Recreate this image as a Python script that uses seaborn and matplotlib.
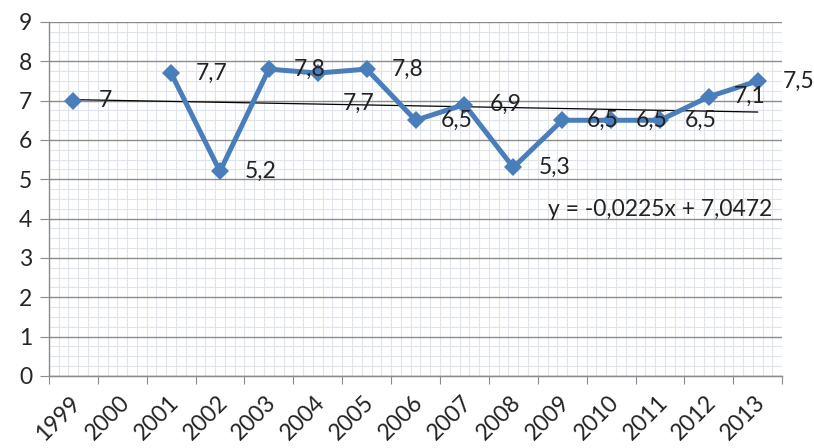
import numpy as np
import pandas as pd
import matplotlib
matplotlib.use("Agg")
import matplotlib.pyplot as plt
import seaborn as sns

# data (2000 has no value)
years = [1999, 2000, 2001, 2002, 2003, 2004, 2005, 2006, 2007, 2008, 2009, 2010, 2011, 2012, 2013]
values = [7.0, np.nan, 7.7, 5.2, 7.8, 7.7, 7.8, 6.5, 6.9, 5.3, 6.5, 6.5, 6.5, 7.1, 7.5]
trend_text = "y = -0,0225x + 7,0472"

blue = "#4a7ebb"
sns.set_style("white")
plt.rcParams["font.family"] = ["Lato", "DejaVu Sans"]
fs = 16.5

df = pd.DataFrame({"x": np.arange(1, len(years) + 1), "year": years, "val": values})
# break the line where a value is missing
df["seg"] = df["val"].isna().cumsum()
pts = df.dropna()

fig, ax = plt.subplots(figsize=(8.14, 4.48), dpi=100)
fig.subplots_adjust(left=0.060, right=0.961, bottom=0.161, top=0.951)

sns.lineplot(data=pts, x="x", y="val", units="seg", estimator=None, color=blue,
             lw=3.6, marker="D", markersize=9.5, markeredgewidth=0, ax=ax, zorder=3)
sns.regplot(data=pts, x="x", y="val", scatter=False, ci=None, truncate=True,
            line_kws={"color": "black", "lw": 0.9, "zorder": 2}, ax=ax)

# data labels to the right of each point (2004 was moved down in the original)
for _, r in pts.iterrows():
    off = (18, -22) if r["year"] == 2004 else (18, 0)
    ax.annotate(("%g" % r["val"]).replace(".", ","), (r["x"], r["val"]), xytext=off,
                textcoords="offset points", ha="left", va="center", fontsize=fs,
                color="#222222", zorder=4)

ax.text(10.7, 4.22, trend_text, fontsize=fs, color="#222222", va="center", ha="left")

ax.set_xlim(0.5, len(years) + 0.5)
ax.set_ylim(0, 9)
ax.set_xlabel("")
ax.set_ylabel("")

ax.set_yticks(range(0, 10))
ax.set_yticks(np.arange(0, 9.01, 0.25), minor=True)
ax.set_xticks(df["x"])
ax.set_xticklabels([])
ax.set_xticks(np.arange(0.5, len(years) + 0.51, 0.2), minor=True)

# rotated year labels, placed like the original
for x, y in zip(df["x"], years):
    ax.annotate(str(y), (x, 0), xycoords=("data", "axes fraction"), xytext=(3, -17),
                textcoords="offset points", rotation=45, ha="right", va="center",
                rotation_mode="anchor", fontsize=fs, color="#222222", annotation_clip=False)

ax.grid(False)
ax.yaxis.grid(True, which="major", color="#8c8c8c", lw=1.0)
ax.grid(True, which="minor", color="#dfe3ea", lw=0.8)
ax.set_axisbelow(True)

ax.tick_params(axis="y", which="major", length=6.5, color="#8c8c8c", pad=5.5,
               labelsize=fs, left=True)
ax.tick_params(axis="x", which="major", length=0)
ax.tick_params(which="minor", length=0)

# tick marks between categories
sec = ax.secondary_xaxis("bottom")
sec.set_xticks(np.arange(0.5, len(years) + 0.51, 1.0))
sec.tick_params(length=5.5, color="#8c8c8c", labelbottom=False)
sec.spines["bottom"].set_color("#8c8c8c")

for s in ["top", "right"]:
    ax.spines[s].set_visible(False)
for s in ["left", "bottom"]:
    ax.spines[s].set_color("#8c8c8c")
    ax.spines[s].set_linewidth(1.0)

fig.savefig("out.png", dpi=100)
